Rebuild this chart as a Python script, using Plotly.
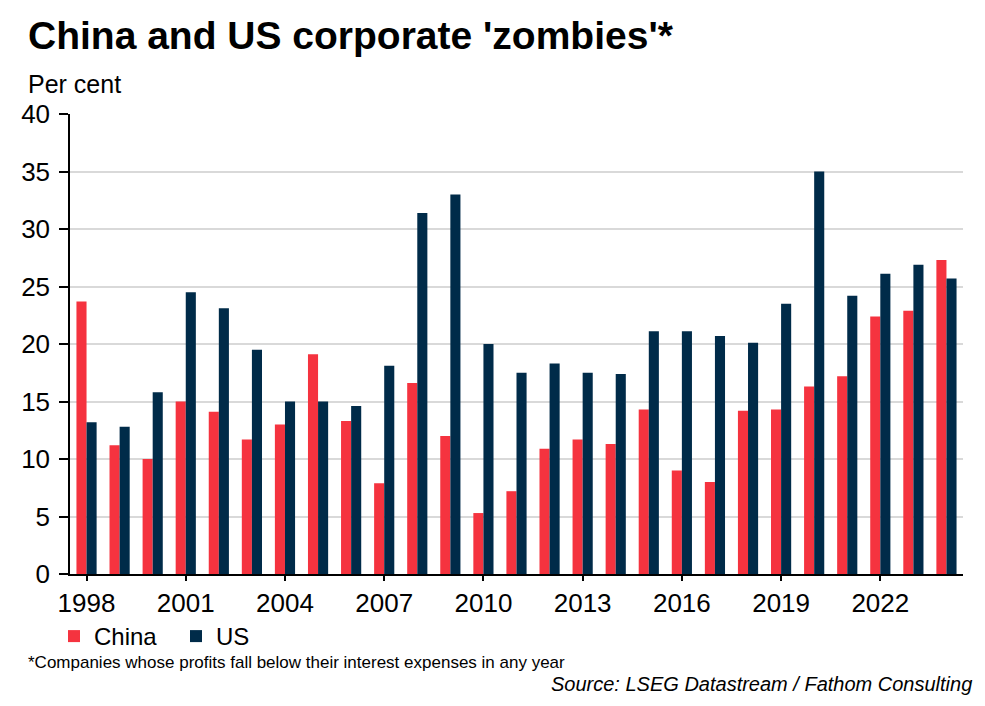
import plotly.graph_objects as go

years = list(range(1998, 2025))
china = [23.7, 11.2, 10.0, 15.0, 14.1, 11.7, 13.0, 19.1, 13.3, 7.9, 16.6, 12.0, 5.3, 7.2,
         10.9, 11.7, 11.3, 14.3, 9.0, 8.0, 14.2, 14.3, 16.3, 17.2, 22.4, 22.9, 27.3]
us = [13.2, 12.8, 15.8, 24.5, 23.1, 19.5, 15.0, 15.0, 14.6, 18.1, 31.4, 33.0, 20.0, 17.5,
      18.3, 17.5, 17.4, 21.1, 21.1, 20.7, 20.1, 23.5, 35.0, 24.2, 26.1, 26.9, 25.7]
tick_years = list(range(1998, 2025, 3))

RED = "#F5333F"
NAVY = "#002B49"
FONT = "Liberation Sans, Arial, sans-serif"

W, H = 985, 706
l, r, t, b = 70, 22, 114, 132
pw, ph = W - l - r, H - t - b


def px(xp):
    return (xp - l) / pw


def py(yp):
    return (H - b - yp) / ph


fig = go.Figure()
fig.add_trace(go.Bar(x=years, y=china, name="China", marker=dict(color=RED, line=dict(width=0))))
fig.add_trace(go.Bar(x=years, y=us, name="US", marker=dict(color=NAVY, line=dict(width=0))))

fig.update_layout(
    width=W, height=H,
    margin=dict(l=l, r=r, t=t, b=b),
    paper_bgcolor="white", plot_bgcolor="white",
    barmode="group", bargap=0.39, bargroupgap=0.0,
    font=dict(family=FONT, color="black", size=24),
    showlegend=True,
    legend=dict(orientation="h", x=px(54), xanchor="left", y=py(614), yanchor="top",
                font=dict(size=24, family=FONT), entrywidth=77, itemwidth=30,
                bgcolor="rgba(0,0,0,0)"),
    xaxis=dict(range=[1997.5, 2024.5], tickmode="array", tickvals=tick_years,
               ticktext=[str(y) for y in tick_years], showgrid=False,
               showline=True, linecolor="black", linewidth=1.5,
               ticks="outside", ticklen=5, tickcolor="black", tickwidth=1.5,
               tickfont=dict(size=26, family=FONT), zeroline=False),
    yaxis=dict(range=[0, 40], tickvals=[0, 5, 10, 15, 20, 25, 30, 35, 40],
               showgrid=True, gridcolor="#D9D9D9", gridwidth=1.5,
               showline=True, linecolor="black", linewidth=1.5,
               ticks="outside", ticklen=9, tickcolor="black", tickwidth=1.5,
               ticklabelstandoff=4,
               tickfont=dict(size=26, family=FONT), zeroline=False),
)

fig.add_annotation(text="<b>China and US corporate 'zombies'*</b>", x=px(26), y=py(35),
                   xref="paper", yref="paper", xanchor="left", yanchor="middle",
                   showarrow=False, font=dict(size=39, family=FONT, color="black"))
fig.add_annotation(text="Per cent", x=px(26), y=py(84),
                   xref="paper", yref="paper", xanchor="left", yanchor="middle",
                   showarrow=False, font=dict(size=25, family=FONT, color="black"))
fig.add_annotation(text="*Companies whose profits fall below their interest expenses in any year",
                   x=px(26), y=py(662), xref="paper", yref="paper", xanchor="left", yanchor="middle",
                   showarrow=False, font=dict(size=17, family=FONT, color="black"))
fig.add_annotation(text="<i>Source: LSEG Datastream / Fathom Consulting</i>",
                   x=px(974), y=py(684), xref="paper", yref="paper", xanchor="right", yanchor="middle",
                   showarrow=False, font=dict(size=20, family=FONT, color="black"))

fig.write_html("out.html")
